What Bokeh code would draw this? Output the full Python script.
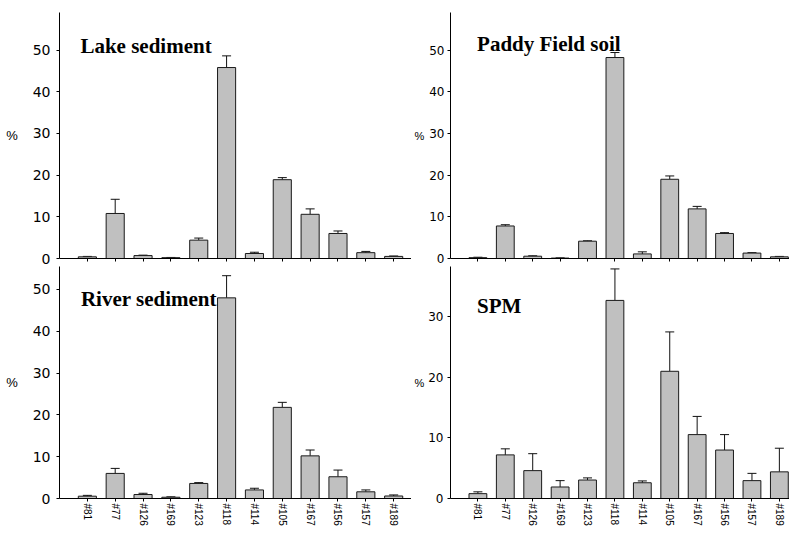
from bokeh.plotting import figure
from bokeh.layouts import column, row
from bokeh.models import Range1d, FixedTicker, Label, Whisker, ColumnDataSource, TeeHead
from bokeh.embed import file_html
from bokeh.resources import INLINE

congeners = ["#81", "#77", "#126", "#169", "#123", "#118", "#114", "#105",
             "#167", "#156", "#157", "#189"]

lake_mean = [0.4, 10.8, 0.7, 0.2, 4.4, 45.8, 1.2, 18.9, 10.6, 6.0, 1.4, 0.5]
lake_err = [0.1, 3.4, 0.1, 0.05, 0.5, 2.8, 0.3, 0.5, 1.3, 0.6, 0.3, 0.1]

paddy_mean = [0.2, 7.8, 0.55, 0.1, 4.15, 48.2, 1.1, 19.0, 11.9, 6.0, 1.3, 0.4]
paddy_err = [0.1, 0.3, 0.1, 0.05, 0.1, 1.2, 0.5, 0.8, 0.6, 0.2, 0.1, 0.1]

river_mean = [0.55, 6.0, 0.95, 0.3, 3.6, 48.0, 2.05, 21.8, 10.2, 5.2, 1.6, 0.6]
river_err = [0.2, 1.2, 0.3, 0.1, 0.2, 5.3, 0.4, 1.2, 1.4, 1.6, 0.45, 0.25]

spm_mean = [0.8, 7.2, 4.6, 1.9, 3.05, 32.7, 2.6, 21.0, 10.55, 8.0, 2.95, 4.4]
spm_err = [0.3, 1.0, 2.8, 1.05, 0.35, 5.2, 0.3, 6.5, 3.0, 2.55, 1.2, 3.9]

ticks_main = [0, 10, 20, 30, 40, 50]
ticks_spm = [0, 10, 20, 30]


def panel(title, means, errs, y_end, yticks, left_side, bottom, frame_w, frame_h,
          x_end, border_left, border_top, border_bottom, title_xy):
    p = figure(frame_width=frame_w, frame_height=frame_h,
               x_range=Range1d(-1, x_end), y_range=Range1d(0, y_end),
               output_backend="svg", toolbar_location=None,
               min_border_left=border_left, min_border_right=0,
               min_border_top=border_top, min_border_bottom=border_bottom)
    p.xgrid.visible = False
    p.ygrid.visible = False
    p.outline_line_color = None
    p.background_fill_color = "white"
    p.border_fill_color = "white"

    src = ColumnDataSource(dict(
        x=list(range(len(congeners))),
        mean=means,
        top=[m + e for m, e in zip(means, errs)],
    ))
    p.vbar(x="x", top="mean", width=0.65, source=src,
           fill_color="#c0c0c0", line_color="#1a1a1a", line_width=1)
    w = Whisker(source=src, base="x", lower="mean", upper="top", dimension="height",
                line_color="#111111", line_width=1,
                upper_head=TeeHead(size=9, line_color="#111111", line_width=1),
                lower_head=None)
    p.add_layout(w)

    # y axis
    ya = p.yaxis[0]
    ya.ticker = FixedTicker(ticks=yticks)
    ya.minor_tick_line_color = None
    ya.major_tick_in = 0
    ya.major_tick_out = 3
    ya.axis_line_color = "black"
    ya.major_tick_line_color = "black"
    ya.major_label_text_font = "DejaVu Sans"
    ya.major_label_text_color = "black"
    ya.axis_label = "%"
    ya.axis_label_orientation = "horizontal"
    ya.axis_label_text_font = "Liberation Sans"
    ya.axis_label_text_font_style = "normal"
    ya.axis_label_text_color = "black"
    if left_side:
        ya.major_label_text_font_size = "14px"
        ya.major_label_standoff = 6
        ya.axis_label_text_font_size = "13px"
        ya.axis_label_standoff = 12
    else:
        ya.major_label_text_font_size = "12px"
        ya.major_label_standoff = 3 if not bottom else 4
        ya.axis_label_text_font_size = "11px"
        ya.axis_label_standoff = 2 if not bottom else 1

    # x axis
    xa = p.xaxis[0]
    xa.ticker = FixedTicker(ticks=list(range(len(congeners))))
    xa.minor_tick_line_color = None
    xa.major_tick_in = 0
    xa.major_tick_out = 3
    xa.axis_line_color = "black"
    xa.major_tick_line_color = "black"
    if bottom:
        xa.major_label_overrides = {i: c for i, c in enumerate(congeners)}
        xa.major_label_orientation = "vertical"
        xa.major_label_text_font = "Liberation Sans"
        xa.major_label_text_font_size = "10px"
        xa.major_label_text_color = "black"
        xa.major_label_standoff = 2
    else:
        xa.major_label_overrides = {i: "" for i in range(len(congeners))}
        xa.major_label_text_font_size = "0px"
        xa.major_label_standoff = 0

    p.add_layout(Label(x=title_xy[0], y=title_xy[1], text=title,
                       text_font="Liberation Serif", text_font_style="bold",
                       text_font_size="21px", text_color="black",
                       text_baseline="alphabetic", text_align="left"))
    return p


tl = panel("Lake sediment", lake_mean, lake_err, 59, ticks_main, True, False,
           352, 246, 11.64, 59, 12, 8, (-0.25, 50.9))
tr = panel("Paddy Field soil", paddy_mean, paddy_err, 59, ticks_main, False, False,
           339, 246, 11.37, 34, 12, 8, (-0.03, 51.4))
bl = panel("River sediment", river_mean, river_err, 55.5, ticks_main, True, True,
           352, 232, 11.64, 59, 0, 28, (-0.23, 47.7))
br = panel("SPM", spm_mean, spm_err, 38.3, ticks_spm, False, True,
           339, 232, 11.37, 34, 0, 28, (-0.03, 31.7))

layout = column(row(tl, tr), row(bl, br))

open("out.html", "w").write(file_html(layout, INLINE))
